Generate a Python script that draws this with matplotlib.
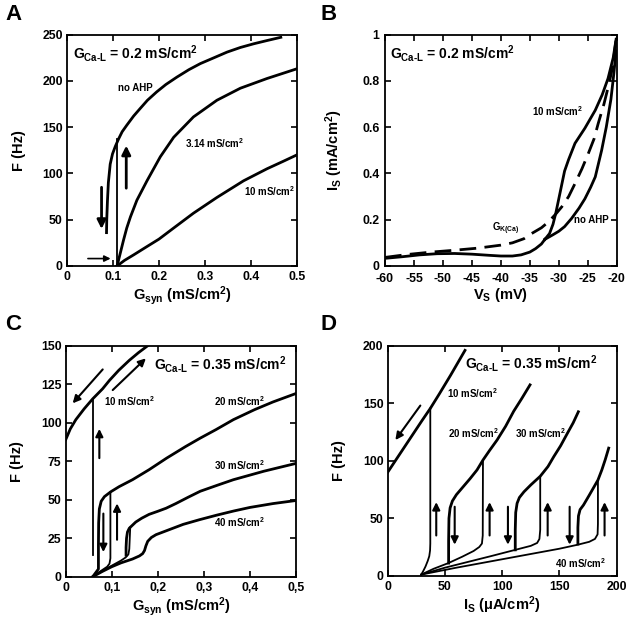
import matplotlib
matplotlib.use("Agg")
import matplotlib.pyplot as plt

plt.rcParams['font.family'] = 'Liberation Sans'
plt.rcParams['font.weight'] = 'bold'
plt.rcParams['axes.labelweight'] = 'bold'
plt.rcParams['mathtext.default'] = 'regular'

# ---- panel A : F vs Gsyn, GCa-L = 0.2
a_noahp_x = [0.086, 0.0865, 0.088, 0.090, 0.094, 0.099, 0.105, 0.112, 0.120, 0.130, 0.145, 0.159,
             0.175, 0.195, 0.215, 0.239, 0.265, 0.29, 0.32, 0.348, 0.377, 0.406, 0.435, 0.465]
a_noahp_y = [36, 50, 70, 90, 110, 121, 129, 137, 145, 152, 162, 170,
             179, 188, 196, 204, 212, 218.6, 225, 231, 236, 240, 243.5, 247]
a_314_x = [0.109, 0.113, 0.117, 0.123, 0.130, 0.138, 0.152, 0.174, 0.203, 0.232, 0.275, 0.326, 0.377, 0.435, 0.5]
a_314_y = [0, 8, 16, 28, 41, 53, 71, 92, 118, 139, 161, 179, 192, 202.5, 213]
a_10_x = [0.109, 0.125, 0.145, 0.174, 0.2, 0.232, 0.275, 0.326, 0.384, 0.435, 0.47, 0.5]
a_10_y = [0, 6, 12, 21, 29, 41, 57, 74, 92, 105, 113, 120]
a_jump_x = [0.1093, 0.1093]
a_jump_y = [0, 137]

# ---- panel B : Is vs Vs
b_base_x = [-60, -57, -54, -51, -48, -45, -42, -40, -38, -36.5, -35, -34, -33, -32.4]
b_base_y = [0.033, 0.04, 0.048, 0.053, 0.054, 0.051, 0.046, 0.043, 0.043, 0.048, 0.06, 0.075, 0.095, 0.115]
b_10_x = [-32.4, -31.6, -31.0, -30.5, -30.0, -29.5, -29.0, -28.3, -27.2, -25.5, -23.7, -22.5, -21.5, -20.6, -20.1]
b_10_y = [0.115, 0.14, 0.18, 0.23, 0.29, 0.35, 0.41, 0.46, 0.53, 0.595, 0.673, 0.74, 0.81, 0.9, 0.98]
b_noahp_x = [-32.4, -31, -30, -29, -27.8, -26.5, -25.5, -24.5, -23.7, -22.6, -21.8, -21.0, -20.5, -20.1]
b_noahp_y = [0.115, 0.135, 0.15, 0.17, 0.205, 0.25, 0.29, 0.34, 0.385, 0.5, 0.6, 0.72, 0.83, 0.93]
b_gk_x = [-60, -56, -52, -48, -44, -40, -38, -36, -34.7, -33, -31.8, -30.5, -29.5, -28.3, -27.2,
          -26, -24.9, -23.9, -23.2, -22.2, -21.4, -20.7, -20.1]
b_gk_y = [0.037, 0.05, 0.06, 0.068, 0.077, 0.09, 0.1, 0.118, 0.14, 0.165, 0.19, 0.225, 0.255, 0.3, 0.356,
          0.42, 0.486, 0.55, 0.615, 0.7, 0.78, 0.86, 0.98]

# ---- panel C : F vs Gsyn, GCa-L = 0.35
c10_up_x = [0.0, 0.01, 0.022, 0.04, 0.0586, 0.08, 0.095, 0.115, 0.138, 0.158, 0.178]
c10_up_y = [89, 96, 102, 109, 115.5, 122, 127.5, 134, 140.5, 145.5, 150]
c10_jump_x = [0.0586, 0.0586]
c10_jump_y = [14, 115.5]
c20_up_x = [0.0586, 0.071, 0.071, 0.0715, 0.073, 0.077, 0.084, 0.098, 0.116, 0.145, 0.181, 0.219,
            0.26, 0.292, 0.326, 0.364, 0.41, 0.45, 0.5]
c20_up_y = [0, 5, 20, 35, 44, 49, 52, 55.2, 58.5, 63, 69.5, 77, 84.5, 90, 95.5, 102, 108.5, 113.5, 119]
c20_lo_x = [0.0586, 0.07, 0.08, 0.09, 0.095, 0.097, 0.097]
c20_lo_y = [0, 2.5, 4.5, 6.5, 8.5, 12, 55]
c30_lo_x = [0.0586, 0.08, 0.10, 0.12, 0.13, 0.136, 0.138, 0.139, 0.140]
c30_lo_y = [0, 3.8, 7.2, 10.5, 12.5, 14.5, 18, 25, 32]
c30_up_x = [0.131, 0.131, 0.132, 0.134, 0.138, 0.145, 0.152, 0.165, 0.181, 0.2, 0.218, 0.239,
            0.265, 0.292, 0.33, 0.364, 0.43, 0.5]
c30_up_y = [14, 19, 25, 29, 31.5, 33.5, 35.5, 38, 40.5, 42.5, 44.5, 47.5, 51.5, 55.5, 59.5, 63, 68.5, 73.6]
c40_x = [0.0586, 0.08, 0.10, 0.12, 0.145, 0.16, 0.167, 0.171, 0.174, 0.178, 0.186, 0.196, 0.218,
         0.255, 0.29, 0.328, 0.365, 0.4, 0.45, 0.5]
c40_y = [0, 3.5, 6.5, 9, 11.5, 13.5, 15, 17, 20, 23, 25.5, 27.3, 29.8, 34, 37, 40, 42.7, 45, 47.5, 49.5]

# ---- panel D : F vs Is
d10_up_x = [0, 10, 20, 30, 37.2, 45, 55, 67.5]
d10_up_y = [90, 105, 120, 135, 145.5, 158, 174.5, 196]
d10_lo_x = [29.3, 31, 33, 35, 36.3, 37, 37.2, 37.2]
d10_lo_y = [1, 4, 8, 13, 17, 22, 28, 145.5]
d20_lo_x = [29.3, 40, 53, 65, 75, 80, 82.3, 83.0, 83.2]
d20_lo_y = [1, 6, 11, 16.5, 21.5, 25, 28, 35, 100.6]
d20_up_x = [53.2, 53.2, 53.5, 54.5, 56.5, 60, 66, 72, 78, 83.2, 89, 95.5, 103, 110, 117, 124.3]
d20_up_y = [11, 30, 50, 59, 65, 70.5, 77.5, 84.5, 92, 100.6, 109, 118, 130, 143, 154, 166]
d30_lo_x = [29.3, 50, 70, 90, 111.4, 125, 130.5, 132.5, 133.2, 133.2]
d30_lo_y = [1, 7, 12, 17, 22.5, 26, 28.5, 32, 40, 86]
d30_up_x = [111.4, 111.4, 111.8, 113, 115, 119, 125, 133.2, 140, 145, 151, 157, 162, 166.5]
d30_up_y = [22.5, 40, 55, 63, 68, 73, 79, 86.5, 95, 103.5, 113, 124, 133, 142.6]
d40_lo_x = [29.3, 60, 90, 120, 150, 166.1, 176, 181, 183.3, 183.6, 183.6]
d40_lo_y = [1, 7, 12.5, 18, 23.5, 27, 29.5, 32, 36, 45, 83.2]
d40_up_x = [166.1, 166.1, 166.6, 168, 171, 176, 183.6, 187, 190, 193]
d40_up_y = [27.6, 42, 52, 57.5, 61.5, 70, 83.2, 92, 101, 111]

# ticks
a_xticks = [0, 0.1, 0.2, 0.3, 0.4, 0.5]
a_xlabels = ['0', '0.1', '0.2', '0.3', '0.4', '0.5']
a_yticks = [0, 50, 100, 150, 200, 250]
b_xticks = [-60, -55, -50, -45, -40, -35, -30, -25, -20]
b_yticks = [0, 0.2, 0.4, 0.6, 0.8, 1]
b_ylabels = ['0', '0.2', '0.4', '0.6', '0.8', '1']
c_xticks = [0, 0.1, 0.2, 0.3, 0.4, 0.5]
c_xlabels = ['0', '0,1', '0,2', '0,3', '0,4', '0,5']
c_yticks = [0, 25, 50, 75, 100, 125, 150]
d_xticks = [0, 50, 100, 150, 200]
d_yticks = [0, 50, 100, 150, 200]

HY = '\u2010'
LW = 2.0
TH = 1.3


def setup(ax, xlim, ylim, xt, xl, yt, yl, xlabel, ylabel, xpad=3.5, ypad=3):
    ax.set_xlim(*xlim)
    ax.set_ylim(*ylim)
    ax.set_xticks(xt, [str(v) for v in xt] if xl is None else xl)
    ax.set_yticks(yt, [str(v) for v in yt] if yl is None else yl)
    ax.tick_params(direction='in', top=True, right=True, length=4, width=1.2, labelsize=8.8)
    ax.tick_params(axis='x', pad=xpad)
    ax.tick_params(axis='y', pad=ypad)
    for s in ax.spines.values():
        s.set_linewidth(1.3)
    ax.set_xlabel(xlabel, fontsize=10.5, labelpad=1)
    ax.set_ylabel(ylabel, fontsize=10.5, labelpad=12)


def arrow(ax, x0, y0, x1, y1, lw=1.5, ms=11):
    ax.annotate('', xy=(x1, y1), xytext=(x0, y0),
                arrowprops=dict(arrowstyle='-|>', lw=lw, color='k', mutation_scale=ms,
                                shrinkA=0, shrinkB=0))


def small(ax, x, y, s):
    ax.text(x, y, s, fontsize=7, va='center', ha='left')


def gcal(ax, x, y, val):
    ax.text(x, y, 'G$_{Ca' + HY + 'L}$ = ' + val + ' mS/cm$^2$', fontsize=10, va='center', ha='left')


fig = plt.figure(figsize=(6.3, 6.21), dpi=100)
axA = fig.add_axes([0.1063, 0.5717, 0.365, 0.3727])
axB = fig.add_axes([0.6111, 0.5717, 0.3678, 0.3727])
axC = fig.add_axes([0.1043, 0.0713, 0.3657, 0.372])
axD = fig.add_axes([0.6154, 0.0729, 0.3635, 0.3703])

# A
axA.plot(a_noahp_x, a_noahp_y, 'k', lw=LW)
axA.plot(a_314_x, a_314_y, 'k', lw=LW)
axA.plot(a_10_x, a_10_y, 'k', lw=LW)
axA.plot(a_jump_x, a_jump_y, 'k', lw=TH)
arrow(axA, 0.0752, 85, 0.0752, 40, lw=2, ms=13)
arrow(axA, 0.1289, 84, 0.1289, 130, lw=2, ms=13)
arrow(axA, 0.0456, 8, 0.0949, 8, lw=1.2, ms=9)
gcal(axA, 0.014, 229, '0.2')
small(axA, 0.112, 192, 'no AHP')
small(axA, 0.257, 133, '3.14 mS/cm$^2$')
small(axA, 0.384, 81, '10 mS/cm$^2$')
setup(axA, (0, 0.5), (0, 250), a_xticks, a_xlabels, a_yticks, None,
      'G$_{syn}$ (mS/cm$^2$)', 'F (Hz)')

# B
axB.plot(b_base_x, b_base_y, 'k', lw=LW)
axB.plot(b_10_x, b_10_y, 'k', lw=LW)
axB.plot(b_noahp_x, b_noahp_y, 'k', lw=LW)
axB.plot(b_gk_x, b_gk_y, 'k', lw=LW, dashes=(6, 3))
gcal(axB, -59.2, 0.92, '0.2')
small(axB, -34.6, 0.67, '10 mS/cm$^2$')
small(axB, -27.3, 0.198, 'no AHP')
small(axB, -41.6, 0.16, 'G$_{K(Ca)}$')
setup(axB, (-60, -20), (0, 1), b_xticks, None, b_yticks, b_ylabels,
      'V$_S$ (mV)', 'I$_S$ (mA/cm$^2$)', xpad=5, ypad=4)

# C
axC.plot(c10_up_x, c10_up_y, 'k', lw=LW)
axC.plot(c10_jump_x, c10_jump_y, 'k', lw=TH)
axC.plot(c20_up_x, c20_up_y, 'k', lw=LW)
axC.plot(c20_lo_x, c20_lo_y, 'k', lw=TH)
axC.plot(c30_lo_x, c30_lo_y, 'k', lw=TH)
axC.plot(c30_up_x, c30_up_y, 'k', lw=LW)
axC.plot(c40_x, c40_y, 'k', lw=LW)
arrow(axC, 0.073, 77, 0.073, 96)
arrow(axC, 0.0817, 41, 0.0817, 16)
arrow(axC, 0.1114, 24, 0.1114, 47.6)
arrow(axC, 0.0803, 134.6, 0.0151, 112.6)
arrow(axC, 0.102, 121.2, 0.174, 141.8)
gcal(axC, 0.192, 137.5, '0.35')
small(axC, 0.084, 114, '10 mS/cm$^2$')
small(axC, 0.322, 114, '20 mS/cm$^2$')
small(axC, 0.322, 72.5, '30 mS/cm$^2$')
small(axC, 0.322, 35.7, '40 mS/cm$^2$')
setup(axC, (0, 0.5), (0, 150), c_xticks, c_xlabels, c_yticks, None,
      'G$_{syn}$ (mS/cm$^2$)', 'F (Hz)')

# D
axD.plot(d10_up_x, d10_up_y, 'k', lw=LW)
axD.plot(d10_lo_x, d10_lo_y, 'k', lw=TH)
axD.plot(d20_lo_x, d20_lo_y, 'k', lw=TH)
axD.plot(d20_up_x, d20_up_y, 'k', lw=LW)
axD.plot(d30_lo_x, d30_lo_y, 'k', lw=TH)
axD.plot(d30_up_x, d30_up_y, 'k', lw=LW)
axD.plot(d40_lo_x, d40_lo_y, 'k', lw=TH)
axD.plot(d40_up_x, d40_up_y, 'k', lw=LW)
for ux in [42.4, 89, 139.7, 189.4]:
    arrow(axD, ux, 35, ux, 64)
for dx in [58.5, 105, 158.9]:
    arrow(axD, dx, 60, dx, 27)
arrow(axD, 28.5, 148, 6.7, 118)
gcal(axD, 67.5, 184.7, '0.35')
small(axD, 52, 159, '10 mS/cm$^2$')
small(axD, 52.4, 124, '20 mS/cm$^2$')
small(axD, 111.4, 124, '30 mS/cm$^2$')
small(axD, 146.4, 11, '40 mS/cm$^2$')
setup(axD, (0, 200), (0, 200), d_xticks, None, d_yticks, None,
      'I$_S$ (\u03bcA/cm$^2$)', 'F (Hz)')

for lab, x, y in [('A', 0.008, 0.993), ('B', 0.508, 0.993), ('C', 0.008, 0.495), ('D', 0.508, 0.495)]:
    fig.text(x, y, lab, fontsize=16, va='top', ha='left')

fig.savefig('out.png', dpi=100)
